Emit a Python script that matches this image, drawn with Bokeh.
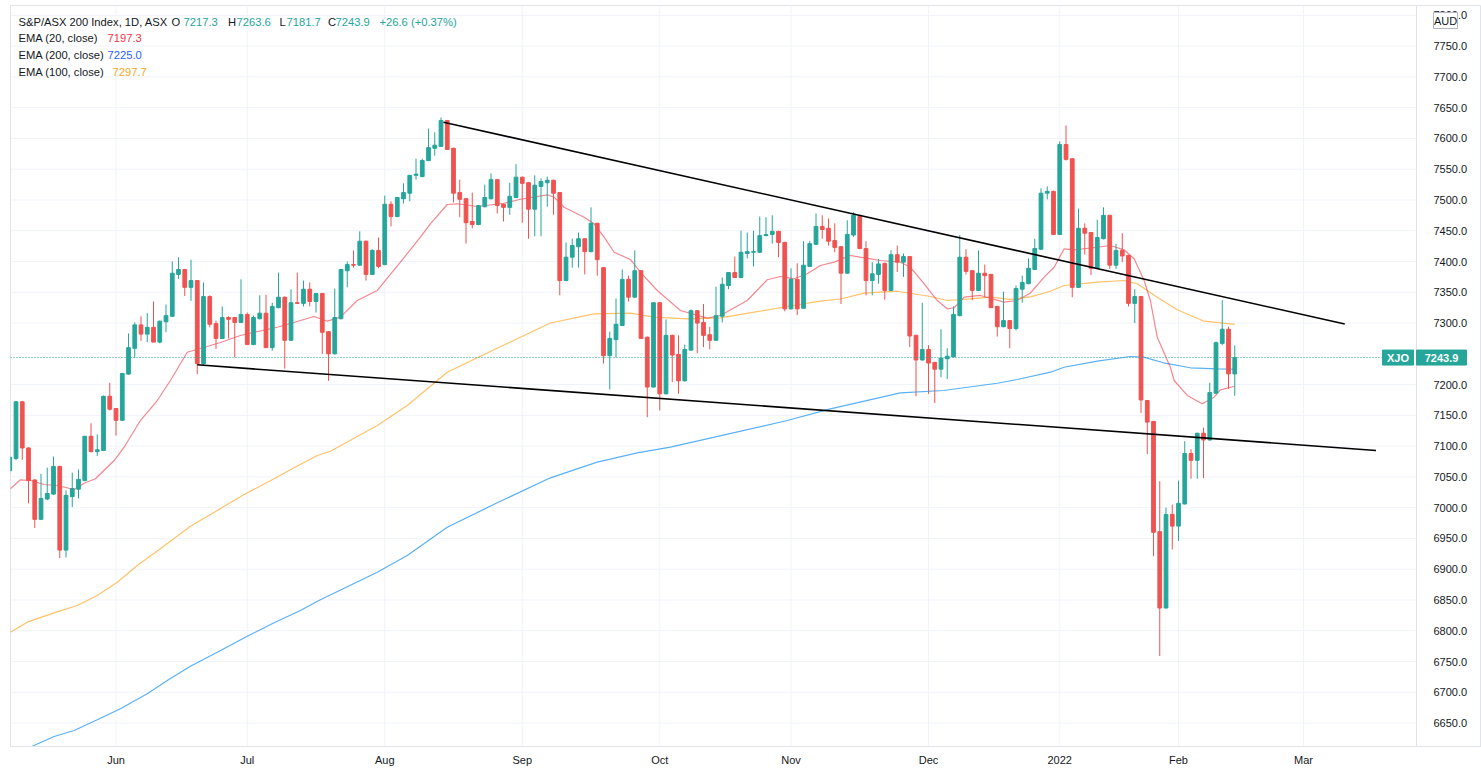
from bokeh.plotting import figure
from bokeh.models import Range1d, FixedTicker, Label, ColumnDataSource
from bokeh.core.properties import value
from bokeh.embed import file_html
from bokeh.resources import INLINE

# ---------------- data (bar index = ASX trading day, 0 = 7 May 2021) -------------
opens = [7060, 7080, 7172, 7097, 7045, 6981, 7014, 7022, 7067, 6931,
         7018, 7030, 7044, 7116, 7091, 7093, 7181, 7161, 7142, 7217,
         7259, 7297, 7282, 7293, 7269, 7302, 7311, 7379, 7387, 7358,
         7369, 7234, 7343, 7299, 7275, 7309, 7309, 7301, 7314, 7265,
         7307, 7316, 7260, 7325, 7342, 7272, 7333, 7332, 7355, 7335,
         7348, 7286, 7250, 7307, 7385, 7395, 7394, 7433, 7379, 7418,
         7395, 7493, 7473, 7502, 7511, 7540, 7538, 7564, 7584, 7587,
         7629, 7584, 7512, 7502, 7465, 7460, 7489, 7502, 7533, 7493,
         7488, 7504, 7537, 7528, 7485, 7522, 7528, 7532, 7512, 7369,
         7407, 7424, 7437, 7416, 7462, 7390, 7247, 7273, 7296, 7371,
         7342, 7385, 7277, 7196, 7333, 7185, 7280, 7249, 7206, 7256,
         7320, 7301, 7281, 7272, 7311, 7361, 7382, 7374, 7413, 7415,
         7415, 7442, 7444, 7449, 7431, 7323, 7371, 7324, 7392, 7428,
         7457, 7454, 7434, 7424, 7381, 7443, 7473, 7421, 7369, 7379,
         7397, 7353, 7411, 7399, 7408, 7280, 7240, 7257, 7236, 7225,
         7242, 7245, 7312, 7407, 7385, 7353, 7381, 7379, 7327, 7294,
         7304, 7291, 7355, 7364, 7387, 7420, 7511, 7514, 7444, 7590,
         7567, 7358, 7454, 7447, 7389, 7437, 7475, 7394, 7418, 7410,
         7332, 7343, 7174, 7140, 6961, 6837, 6989, 6970, 7006, 7088,
         7077, 7121, 7110, 7186, 7267, 7290, 7217.3]
highs = [7085, 7173, 7173, 7098, 7046, 7055, 7065, 7083, 7068, 7028,
         7057, 7062, 7116, 7137, 7119, 7182, 7203, 7162, 7219, 7283,
         7301, 7311, 7316, 7335, 7304, 7330, 7400, 7407, 7388, 7403,
         7370, 7366, 7345, 7304, 7327, 7311, 7310, 7371, 7317, 7312,
         7345, 7346, 7333, 7382, 7343, 7355, 7382, 7369, 7366, 7349,
         7349, 7287, 7356, 7388, 7400, 7418, 7449, 7434, 7420, 7439,
         7507, 7498, 7505, 7527, 7540, 7567, 7567, 7616, 7610, 7634,
         7630, 7585, 7533, 7503, 7512, 7491, 7525, 7543, 7534, 7494,
         7528, 7558, 7538, 7529, 7540, 7535, 7538, 7533, 7513, 7431,
         7437, 7447, 7438, 7488, 7463, 7391, 7286, 7340, 7387, 7377,
         7418, 7386, 7278, 7333, 7334, 7306, 7281, 7280, 7265, 7322,
         7321, 7331, 7294, 7359, 7374, 7383, 7408, 7450, 7447, 7450,
         7473, 7472, 7475, 7450, 7432, 7389, 7397, 7433, 7433, 7478,
         7475, 7470, 7462, 7425, 7467, 7480, 7476, 7433, 7399, 7404,
         7398, 7418, 7426, 7413, 7409, 7281, 7333, 7264, 7237, 7290,
         7259, 7327, 7443, 7420, 7386, 7418, 7395, 7380, 7328, 7351,
         7305, 7361, 7377, 7405, 7437, 7519, 7522, 7515, 7595, 7621,
         7568, 7486, 7462, 7448, 7468, 7488, 7476, 7429, 7446, 7411,
         7355, 7344, 7175, 7141, 7043, 7000, 7005, 7044, 7108, 7095,
         7121, 7130, 7203, 7270, 7337, 7294, 7263.6]
lows = [7055, 7077, 7078, 7007, 6967, 6980, 7012, 7021, 6918, 6919,
        7001, 7015, 7043, 7090, 7084, 7092, 7158, 7117, 7141, 7216,
        7243, 7271, 7269, 7269, 7267, 7285, 7310, 7372, 7344, 7336,
        7217, 7232, 7293, 7258, 7274, 7275, 7244, 7300, 7265, 7264,
        7306, 7260, 7255, 7324, 7226, 7271, 7331, 7327, 7327, 7317,
        7250, 7206, 7249, 7306, 7358, 7390, 7393, 7369, 7378, 7389,
        7394, 7457, 7472, 7494, 7498, 7533, 7537, 7563, 7572, 7586,
        7582, 7496, 7472, 7429, 7454, 7459, 7488, 7501, 7478, 7465,
        7476, 7503, 7463, 7437, 7441, 7441, 7489, 7476, 7345, 7368,
        7390, 7390, 7379, 7415, 7377, 7234, 7192, 7244, 7295, 7335,
        7341, 7274, 7147, 7195, 7158, 7184, 7204, 7185, 7205, 7255,
        7251, 7261, 7257, 7271, 7301, 7355, 7373, 7373, 7405, 7392,
        7414, 7441, 7429, 7407, 7319, 7322, 7313, 7323, 7391, 7427,
        7437, 7426, 7415, 7331, 7380, 7440, 7420, 7345, 7345, 7364,
        7338, 7352, 7383, 7375, 7261, 7181, 7239, 7185, 7170, 7212,
        7209, 7244, 7311, 7379, 7337, 7352, 7342, 7325, 7278, 7293,
        7259, 7288, 7333, 7363, 7386, 7419, 7501, 7443, 7443, 7564,
        7342, 7357, 7411, 7378, 7388, 7436, 7388, 7388, 7399, 7327,
        7300, 7154, 7087, 6921, 6759, 6836, 6932, 6946, 7005, 7047,
        7047, 7048, 7109, 7185, 7264, 7193, 7181.7]
closes = [7082, 7172, 7097, 7044, 6981, 7015, 7023, 7067, 6931, 7020,
          7031, 7046, 7116, 7091, 7094, 7181, 7160, 7142, 7218, 7260,
          7297, 7282, 7293, 7269, 7303, 7312, 7381, 7387, 7358, 7369,
          7234, 7343, 7298, 7275, 7309, 7306, 7301, 7314, 7265, 7309,
          7316, 7260, 7327, 7342, 7272, 7333, 7332, 7355, 7335, 7348,
          7285, 7250, 7309, 7387, 7395, 7394, 7433, 7379, 7418, 7392,
          7493, 7473, 7504, 7512, 7540, 7542, 7564, 7585, 7589, 7629,
          7582, 7511, 7501, 7463, 7460, 7491, 7504, 7533, 7491, 7488,
          7506, 7537, 7527, 7485, 7524, 7530, 7532, 7511, 7369, 7407,
          7426, 7437, 7416, 7462, 7403, 7247, 7275, 7298, 7371, 7342,
          7385, 7275, 7196, 7333, 7185, 7280, 7248, 7206, 7257, 7320,
          7300, 7280, 7272, 7312, 7363, 7382, 7374, 7415, 7416, 7416,
          7442, 7444, 7449, 7431, 7323, 7371, 7323, 7394, 7429, 7457,
          7452, 7433, 7423, 7381, 7444, 7475, 7421, 7369, 7380, 7396,
          7353, 7411, 7399, 7408, 7279, 7240, 7257, 7235, 7225, 7243,
          7246, 7314, 7407, 7384, 7353, 7381, 7377, 7325, 7294, 7304,
          7291, 7356, 7366, 7389, 7421, 7511, 7514, 7444, 7590, 7566,
          7358, 7454, 7446, 7389, 7439, 7475, 7394, 7418, 7409, 7332,
          7343, 7175, 7139, 6960, 6837, 6989, 6970, 7007, 7088, 7077,
          7121, 7110, 7187, 7268, 7290, 7217.3, 7243.9]

# EMA readings (bar index, value)
ema20_bar = [0.1, 1.7, 3.3, 5.5, 7.6, 10.3, 11.9, 13.7, 16.7, 18.3, 20.9, 23.6, 25.7,
             28.4, 30.5, 33.7, 36.9, 42.8, 48.7, 50.8, 52.9, 55.6, 58.8, 62.5, 65.7,
             67.3, 70.0, 71.6, 74.8, 79.1, 81.7, 86.0, 87.1, 88.7, 91.9, 93.5, 95.1,
             96.7, 99.3, 100.9, 103.6, 107.3, 111.6, 113.7, 118.0, 121.2, 123.3, 125.5,
             127.6, 129.7, 131.9, 134.5, 136.1, 139.3, 142.5, 144.1, 146.3, 148.4,
             150.0, 151.1, 152.7, 155.3, 159.1, 161.2, 163.3, 165.5, 167.1, 168.7,
             170.3, 174.0, 176.1, 178.3, 179.9, 181.5, 182.5, 183.6, 185.7, 186.3,
             188.4, 190.8, 192.7, 193.7, 196]
ema20_val = [7030.6, 7045.3, 7044.1, 7037.6, 7036.0, 7029.5, 7039.7, 7046.9, 7076.6,
             7098.2, 7141.6, 7174.1, 7206.6, 7252.6, 7258.6, 7268.4, 7279.8, 7293.2,
             7310.6, 7303.0, 7309.5, 7336.6, 7352.9, 7398.9, 7439.5, 7461.3, 7492.6,
             7493.8, 7489.4, 7494.7, 7501.2, 7508.4, 7504.5, 7488.2, 7472.0, 7461.3,
             7439.5, 7415.1, 7403.3, 7382.6, 7352.9, 7320.4, 7307.9, 7312.3, 7336.6,
             7370.3, 7375.6, 7371.9, 7380.0, 7393.5, 7398.9, 7409.8, 7407.0, 7401.6,
             7398.9, 7390.7, 7363.8, 7336.6, 7323.1, 7324.8, 7342.0, 7344.8, 7333.9,
             7336.6, 7348.8, 7374.5, 7390.7, 7420.6, 7419.0, 7423.2, 7426.0, 7419.0,
             7404.4, 7369.1, 7336.6, 7277.0, 7228.2, 7206.6, 7182.3, 7168.8, 7179.5,
             7191.5, 7197.3]
ema100_bar = [0.1, 2.8, 7.1, 10.8, 14.0, 17.2, 20.4, 24.1, 28.9, 33.2, 37.5, 42.3,
              44.9, 49.2, 51.3, 58.8, 63.6, 70.0, 74.8, 81.7, 86.5, 93.5, 99.3, 103.1,
              108.4, 113.7, 119.1, 124.4, 129.7, 132.9, 136.7, 142.0, 147.3, 150.0,
              153.7, 156.9, 160.1, 163.3, 166.5, 168.7, 174.0, 178.3, 180.4, 183.6,
              186.8, 191.1, 196]
ema100_val = [6797.6, 6813.9, 6829.1, 6841.0, 6857.3, 6878.9, 6906.0, 6933.1, 6969.9,
              6995.4, 7021.4, 7046.9, 7061.5, 7084.8, 7091.7, 7133.5, 7166.0, 7220.1,
              7243.5, 7277.0, 7300.1, 7315.0, 7316.0, 7309.5, 7306.9, 7308.5, 7317.6,
              7326.9, 7335.5, 7339.1, 7348.5, 7351.7, 7343.1, 7336.6, 7339.4, 7342.0,
              7338.3, 7342.6, 7351.7, 7361.0, 7366.4, 7369.1, 7363.8, 7342.0, 7321.5,
              7303.0, 7297.7]
ema200_bar = [3.6, 7.1, 10.3, 14.0, 17.7, 22.0, 25.2, 28.9, 33.2, 38.0, 42.3, 46.5,
              49.7, 58.8, 63.6, 70.0, 78.0, 86.5, 94.0, 100.4, 105.7, 124.4, 131.3,
              142.5, 149.4, 158.0, 161.2, 166.5, 168.7, 174.0, 179.3, 181.4, 184.6,
              188.9, 193.2, 196]
ema200_val = [6612.4, 6628.1, 6637.9, 6655.3, 6673.1, 6697.5, 6719.1, 6742.4, 6765.1,
              6791.1, 6812.9, 6832.9, 6850.3, 6895.1, 6922.3, 6968.2, 7007.9, 7048.5,
              7073.9, 7089.1, 7098.3, 7141.6, 7160.6, 7186.6, 7190.4, 7202.2, 7208.2,
              7220.1, 7228.2, 7238.0, 7245.6, 7244.5, 7235.4, 7227.3, 7225.6, 7225.0]

# drawn trend lines (bar index, price)
upper_trend_bar = [69.4, 213.6]
upper_trend_val = [7626.4, 7298.4]
lower_trend_bar = [30.0, 218.6]
lower_trend_val = [7232.1, 7092.9]

month_ticks = [17, 38, 60, 82, 104, 125, 147, 168, 187, 207]
month_labels = ["Jun", "Jul", "Aug", "Sep", "Oct", "Nov", "Dec", "2022", "Feb", "Mar"]
price_ticks = list(range(6650, 7801, 50))

# ---------------- styling -----------------
UP = "#26a69a"
DOWN = "#ef5350"
TXT = "#131722"
GRID = "#f0f3fa"
BORDER = "#e0e3eb"
FONT = "Liberation Sans"

# frame covers the chart pane and the price-scale pane (page pixels 10..1481, 5..746)
FRAME_LEFT, FRAME_TOP = 10, 5
FW, FH = 1471, 741
BAR_PX = 6.25          # pixels per trading day
PT_PX = 1.625          # index points per pixel
X0 = 0.12
X1 = X0 + FW / BAR_PX
Y1 = 7816.0
Y0 = Y1 - FH * PT_PX
SCALE_PX = 1416        # left edge of the price scale pane


def px2x(px):
    return X0 + (px - FRAME_LEFT) / BAR_PX


def py2y(py):
    return Y1 - (py - FRAME_TOP) * PT_PX


p = figure(frame_width=FW, frame_height=FH, output_backend="svg", toolbar_location=None,
           x_range=Range1d(X0, X1), y_range=Range1d(Y0, Y1),
           x_axis_location="below", y_axis_location=None,
           min_border_left=FRAME_LEFT, min_border_top=FRAME_TOP, min_border_right=0,
           min_border_bottom=27,
           background_fill_color="white", border_fill_color="white",
           outline_line_color=BORDER)
p.grid.visible = False

xa = p.xaxis[0]
xa.ticker = FixedTicker(ticks=month_ticks)
xa.major_label_overrides = dict(zip(month_ticks, month_labels))
xa.axis_line_color = BORDER
xa.major_tick_line_color = None
xa.minor_tick_line_color = None
xa.major_tick_out = 0
xa.major_label_standoff = 7
xa.major_label_text_font = FONT
xa.major_label_text_font_size = "11px"
xa.major_label_text_color = TXT

x_scale_edge = px2x(SCALE_PX)

# grid lines (chart pane only)
p.segment(x0=[X0] * len(price_ticks), y0=price_ticks,
          x1=[x_scale_edge] * len(price_ticks), y1=price_ticks,
          line_color=GRID, line_width=1)
p.segment(x0=month_ticks, y0=[Y0] * len(month_ticks), x1=month_ticks,
          y1=[Y1] * len(month_ticks), line_color=GRID, line_width=1)

# candles
n = len(closes)
bars = list(range(n))
colors = [UP if c >= o else DOWN for o, c in zip(opens, closes)]
src = ColumnDataSource(dict(
    x=bars, o=opens, h=highs, l=lows, c=closes,
    top=[max(o, c) for o, c in zip(opens, closes)],
    bot=[min(o, c) for o, c in zip(opens, closes)],
    color=colors))

# EMA lines
p.line(ema200_bar, ema200_val, line_color="#2196f3", line_alpha=0.75, line_width=1.2)
p.line(ema100_bar, ema100_val, line_color="#ffb74d", line_alpha=0.85, line_width=1.2)
p.line(ema20_bar, ema20_val, line_color="#f23645", line_alpha=0.6, line_width=1.2)

p.segment(x0="x", y0="l", x1="x", y1="h", line_color="color", line_width=1, source=src)
p.vbar(x="x", top="top", bottom="bot", width=0.6, fill_color="color", line_color="color",
       line_width=1, source=src)

# trend lines
p.line(upper_trend_bar, upper_trend_val, line_color="#000000", line_width=1.6)
p.line(lower_trend_bar, lower_trend_val, line_color="#000000", line_width=1.6)

# last price dotted line
last = closes[-1]
p.line([X0, px2x(1382)], [last, last], line_color=UP, line_dash="1 2", line_width=1)

# price scale pane
p.segment(x0=[x_scale_edge], y0=[Y0], x1=[x_scale_edge], y1=[Y1], line_color=BORDER,
          line_width=1)
p.text(x=[px2x(1433)] * len(price_ticks), y=price_ticks,
       text=[f"{t:.1f}" for t in price_ticks], text_font=value(FONT),
       text_font_size=value("11px"), text_color=TXT, text_align="left",
       text_baseline="middle")

# badges: instrument and last price
p.quad(left=[px2x(1382), px2x(1416)], right=[px2x(1413), px2x(1466)],
       bottom=[last - 7.5 * PT_PX] * 2, top=[last + 7.5 * PT_PX] * 2,
       fill_color=UP, line_color=UP)
p.text(x=[px2x(1397.5), px2x(1441)], y=[last, last], text=["XJO", f"{last:.1f}"],
       text_font=value(FONT), text_font_size=value("11px"), text_font_style="bold",
       text_color="white", text_align="center", text_baseline="middle")

# currency badge
p.quad(left=[px2x(1433)], right=[px2x(1457)], bottom=[py2y(28)], top=[py2y(12)],
       fill_color="white", line_color="#b2b5be")
p.text(x=[px2x(1445)], y=[py2y(20.5)], text=["AUD"], text_font=value(FONT),
       text_font_size=value("11px"), text_color=TXT, text_align="center",
       text_baseline="middle")


def lab(text, px, py, color=TXT, size="11.2px", style="normal", align="left"):
    p.add_layout(Label(x=px2x(px), y=py2y(py), text=text, text_color=color,
                       text_font=FONT, text_font_size=size, text_font_style=style,
                       text_align=align, text_baseline="middle"))


# header legend
lab("S&P/ASX 200 Index, 1D, ASX", 18, 21)
lab("O", 171, 21)
lab("7217.3", 183, 21, UP)
lab("H", 227.5, 21)
lab("7263.6", 236, 21, UP)
lab("L", 279, 21)
lab("7181.7", 286, 21, UP)
lab("C", 327.5, 21)
lab("7243.9", 335, 21, UP)
lab("+26.6 (+0.37%)", 379, 21, UP)
lab("EMA (20, close)", 18, 37.5)
lab("7197.3", 107, 37.5, "#f23645")
lab("EMA (200, close)", 18, 54)
lab("7225.0", 107, 54, "#2962ff")
lab("EMA (100, close)", 18, 71)
lab("7297.7", 112, 71, "#f9a825")

open("out.html", "w").write(file_html(p, INLINE))
